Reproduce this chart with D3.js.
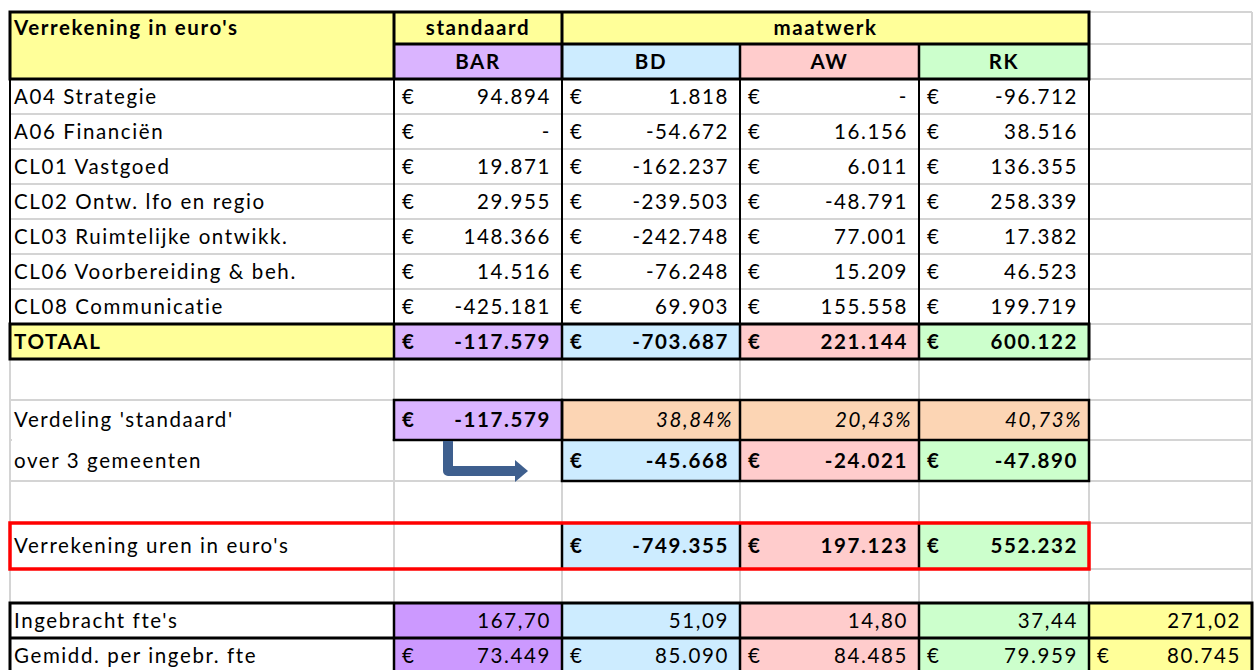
<!DOCTYPE html>
<html>
<head>
<meta charset="utf-8">
<title>Verrekening in euro's</title>
<script src="https://cdn.jsdelivr.net/npm/d3@7"></script>
<style>
  body { margin: 0; background: #fff; }
  text { font-family: Lato, "Open Sans", sans-serif; font-size: 20.5px; letter-spacing: 1.6px; fill: #000; }
</style>
</head>
<body>
<script>
// values
var units = ["BAR", "BD", "AW", "RK"];
var teams = ["A04 Strategie", "A06 Financiën", "CL01 Vastgoed", "CL02 Ontw. lfo en regio",
             "CL03 Ruimtelijke ontwikk.", "CL06 Voorbereiding & beh.", "CL08 Communicatie"];
var barValues = [94894, 0, 19871, 29955, 148366, 14516, -425181];
var bdValues  = [1818, -54672, -162237, -239503, -242748, -76248, 69903];
var awValues  = [0, 16156, 6011, -48791, 77001, 15209, 155558];
var rkValues  = [-96712, 38516, 136355, 258339, 17382, 46523, 199719];
var totals    = [-117579, -703687, 221144, 600122];
var standaard = -117579;
var shares    = [0.3884, 0.2043, 0.4073];
var splitStd  = [-45668, -24021, -47890];
var uren      = [-749355, 197123, 552232];
var fte       = [167.70, 51.09, 14.80, 37.44, 271.02];
var perFte    = [73449, 85090, 84485, 79959, 80745];

// sheet layout
var width = 1255, height = 670;
var colKeys = ["label", "BAR", "BD", "AW", "RK", "extra"];
var colWidths = [384, 168, 178, 179, 170, 163];
var rowKeys = ["h1", "h2", "r0", "r1", "r2", "r3", "r4", "r5", "r6", "tot",
               "gap1", "verd", "over", "gap2", "uren", "gap3", "fte", "avg"];
var rowHeights = [32, 35, 35, 35, 35, 35, 35, 35, 35, 35, 41, 40, 41, 42, 46, 34, 35, 35];

var colEdges = Array.from(d3.cumsum([10].concat(colWidths)));
var rowEdges = Array.from(d3.cumsum([12].concat(rowHeights)));
var colX = d3.scaleOrdinal(colKeys, colEdges.slice(0, -1));
var colW = d3.scaleOrdinal(colKeys, colWidths);
var rowY = d3.scaleOrdinal(rowKeys, rowEdges.slice(0, -1));
var rowH = d3.scaleOrdinal(rowKeys, rowHeights);

var yellow = "#ffff99", peach = "#fcd5b4";
var unitFill = d3.scaleOrdinal(units, ["#dab4ff", "#cdecff", "#ffcccc", "#ccffcc"]);
var fteFill = d3.scaleOrdinal(units.concat(["extra"]), ["#cc99ff", "#cdecff", "#ffcccc", "#ccffcc", yellow]);

var nl = d3.formatLocale({decimal: ",", thousands: ".", grouping: [3], currency: ["€", ""], minus: "-"});
var fmtInt = nl.format(",.0f"), fmtPct = nl.format(".2%"), fmtDec = nl.format(".2f");
var euro = function(v) { return v === 0 ? "-" : fmtInt(v); };

var svg = d3.select("body").append("svg")
    .attr("width", width)
    .attr("height", height);

// gridlines
var grid = svg.append("g").attr("stroke", "#d4d4d4").attr("stroke-width", 2);
grid.selectAll(".gh").data(rowEdges).join("line")
    .attr("x1", colEdges[0]).attr("x2", colEdges[colEdges.length - 1])
    .attr("y1", d => d).attr("y2", d => d);
grid.selectAll(".gv").data(colEdges).join("line")
    .attr("x1", d => d).attr("x2", d => d)
    .attr("y1", rowEdges[0]).attr("y2", height);

// cell fills
var fills = [];
function fill(c0, c1, r0, r1, color) { fills.push({c0: c0, c1: c1, r0: r0, r1: r1, color: color}); }
fill("label", "label", "h1", "h2", yellow);
fill("BAR", "BAR", "h1", "h1", yellow);
fill("BD", "RK", "h1", "h1", yellow);
units.forEach(function(u) { fill(u, u, "h2", "h2", unitFill(u)); fill(u, u, "tot", "tot", unitFill(u)); });
fill("label", "label", "tot", "tot", yellow);
fill("BAR", "BAR", "verd", "verd", unitFill("BAR"));
units.slice(1).forEach(function(u) {
  fill(u, u, "verd", "verd", peach);
  fill(u, u, "over", "over", unitFill(u));
  fill(u, u, "uren", "uren", unitFill(u));
});
units.concat(["extra"]).forEach(function(u) {
  fill(u, u, "fte", "fte", fteFill(u));
  fill(u, u, "avg", "avg", fteFill(u));
});

svg.append("g").selectAll("rect").data(fills).join("rect")
    .attr("x", d => colX(d.c0) - 1)
    .attr("y", d => rowY(d.r0) - 1)
    .attr("width", d => colX(d.c1) + colW(d.c1) - colX(d.c0) + 2)
    .attr("height", d => rowY(d.r1) + rowH(d.r1) - rowY(d.r0) + 2)
    .attr("fill", d => d.color);

// merged label cell for the 'Verdeling' text
svg.append("rect")
    .attr("x", colX("label") + 2).attr("y", rowY("over") - 2)
    .attr("width", colW("label") - 4).attr("height", 4)
    .attr("fill", "#fff");

// black borders
var borders = svg.append("g").attr("stroke", "#000").attr("fill", "none");
function box(c0, c1, r0, r1, sw) {
  borders.append("rect")
      .attr("x", colX(c0)).attr("y", rowY(r0))
      .attr("width", colX(c1) + colW(c1) - colX(c0))
      .attr("height", rowY(r1) + rowH(r1) - rowY(r0))
      .attr("stroke-width", sw);
}
function vline(c, r0, r1, sw) {
  borders.append("line")
      .attr("x1", colX(c)).attr("x2", colX(c))
      .attr("y1", rowY(r0)).attr("y2", rowY(r1) + rowH(r1))
      .attr("stroke-width", sw);
}
function hline(c0, c1, r, sw) {
  borders.append("line")
      .attr("x1", colX(c0)).attr("x2", colX(c1) + colW(c1))
      .attr("y1", rowY(r)).attr("y2", rowY(r))
      .attr("stroke-width", sw);
}

// header block
box("label", "RK", "h1", "h2", 3);
vline("BAR", "h1", "h2", 3);
vline("BD", "h1", "h2", 3);
hline("BAR", "RK", "h2", 3);
vline("AW", "h2", "h2", 2.5);
vline("RK", "h2", "h2", 2.5);
// team rows
["label", "BAR", "BD", "AW", "RK", "extra"].forEach(function(c) { vline(c, "r0", "r6", 2); });
// totals
box("label", "RK", "tot", "tot", 3);
units.forEach(function(u) { vline(u, "tot", "tot", 2.5); });
// distribution
box("BAR", "BAR", "verd", "verd", 2.5);
box("BD", "RK", "verd", "over", 2.5);
hline("BD", "RK", "over", 2.5);
vline("AW", "verd", "over", 2.5);
vline("RK", "verd", "over", 2.5);
// settlement row
units.slice(1).forEach(function(u) { vline(u, "uren", "uren", 2.5); });
// fte block
box("label", "extra", "fte", "avg", 3);
hline("label", "extra", "avg", 3);
colKeys.slice(1).forEach(function(c) { vline(c, "fte", "avg", 2.5); });

// red frame
svg.append("rect")
    .attr("x", colX("label")).attr("y", rowY("uren"))
    .attr("width", colX("extra") - colX("label")).attr("height", rowH("uren"))
    .attr("fill", "none").attr("stroke", "#ff0000").attr("stroke-width", 3.5);

// texts
var texts = svg.append("g");
function put(c, r, s, align, opts) {
  opts = opts || {};
  var x, anchor = "start";
  if (align === "left") x = colX(c) + (c === "label" ? 4 : 8);
  else if (align === "right") { x = colX(c) + colW(c) - (opts.pad || 11); anchor = "end"; }
  else { x = colX(c) + colW(c) / 2; anchor = "middle"; }
  if (opts.span) x = colX(c) + (colX(opts.span) + colW(opts.span) - colX(c)) / 2;
  texts.append("text")
      .attr("x", x)
      .attr("y", rowY(r) + rowH(r) / 2 + 7)
      .attr("text-anchor", anchor)
      .style("font-weight", opts.bold ? "bold" : null)
      .style("font-style", opts.italic ? "italic" : null)
      .text(s);
}
function money(c, r, v, opts) { put(c, r, "€", "left", opts); put(c, r, euro(v), "right", opts); }

put("label", "h1", "Verrekening in euro's", "left", {bold: true});
put("BAR", "h1", "standaard", "center", {bold: true});
put("BD", "h1", "maatwerk", "center", {bold: true, span: "RK"});
units.forEach(function(u) { put(u, "h2", u, "center", {bold: true}); });

var byUnit = [barValues, bdValues, awValues, rkValues];
teams.forEach(function(t, i) {
  var r = "r" + i;
  put("label", r, t, "left");
  units.forEach(function(u, j) { money(u, r, byUnit[j][i]); });
});

put("label", "tot", "TOTAAL", "left", {bold: true});
units.forEach(function(u, j) { money(u, "tot", totals[j], {bold: true}); });

put("label", "verd", "Verdeling 'standaard'", "left");
put("label", "over", "over 3 gemeenten", "left");
money("BAR", "verd", standaard, {bold: true});
units.slice(1).forEach(function(u, j) {
  put(u, "verd", fmtPct(shares[j]), "right", {italic: true, pad: 7});
  money(u, "over", splitStd[j], {bold: true});
  money(u, "uren", uren[j], {bold: true});
});
put("label", "uren", "Verrekening uren in euro's", "left");

put("label", "fte", "Ingebracht fte's", "left");
put("label", "avg", "Gemidd. per ingebr. fte", "left");
units.concat(["extra"]).forEach(function(u, j) {
  put(u, "fte", fmtDec(fte[j]), "right");
  money(u, "avg", perFte[j]);
});

// arrow from 'standaard' to the three municipalities
var ax = colX("BAR") + 54, ay0 = rowY("over") + 1, ay1 = rowY("over") + 31, ax1 = colX("BAR") + 121;
svg.append("path")
    .attr("d", "M" + ax + "," + ay0 + "V" + ay1 + "H" + ax1)
    .attr("fill", "none").attr("stroke", "#3e5f8e").attr("stroke-width", 10)
    .attr("stroke-linejoin", "round");
svg.append("path")
    .attr("d", "M" + ax1 + "," + (ay1 - 11) + "L" + (ax1 + 13) + "," + ay1 + "L" + ax1 + "," + (ay1 + 11) + "Z")
    .attr("fill", "#3e5f8e");
</script>
</body>
</html>
